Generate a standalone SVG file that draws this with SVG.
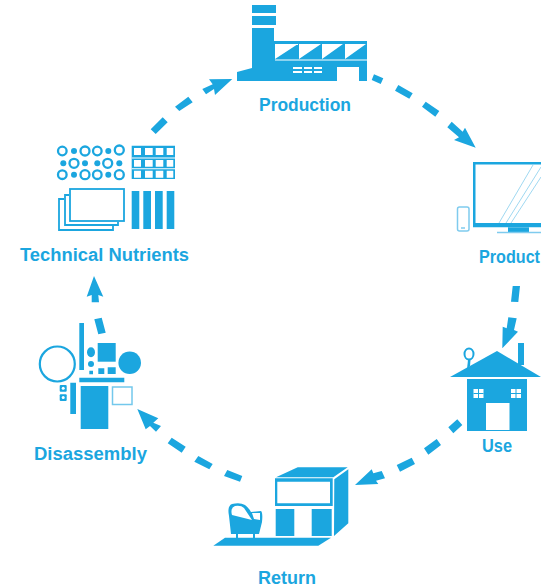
<svg xmlns="http://www.w3.org/2000/svg" width="541" height="588" viewBox="0 0 541 588">
<style>
.b{fill:#1ba6df}
.l{font-family:"Liberation Sans",Arial,sans-serif;font-weight:700;font-size:17.500px;fill:#1ba6df;text-anchor:middle}
.o{fill:none;stroke:#1ba6df;stroke-width:2.300}
.s{fill:none;stroke:#1ba6df;stroke-width:1.800}
.w{fill:#fff}
</style>
<g id="connectors" class="b">
<path d="M150.700 129.300L162.700 117.300L167.700 122.300L155.700 134zM175 106.700L188.300 96.700L192.700 102.300L179.300 111zM202.300 89L212.700 84.300L209 79.300L232.300 79L215 95L214 89L206 94.300z"/>
<path d="M374 74.300L383.300 78.300L380.700 84L371.700 80zM398.300 85L412.700 93.300L409.300 98.700L395 90.700zM425.700 101.700L439.300 111L435.300 116.700L422 106.700zM451.700 121.700L462.700 131.700L465 127.700L475.700 147.700L454 140L459 137.300L447.300 127.300z"/>
<path d="M512.700 286L520 286L518.300 302L511 301.700zM508.300 317.300L516.700 318.300L514 330L518 331.700L502.300 348.300L502.700 326.700L506.700 328.300z"/>
<path d="M457.300 419.300L462.300 425L453.300 433.300L448.300 427.300zM436.700 439L441 445L428.300 454.700L424 448.300zM411.700 457.700L415 464L400 471.700L396.700 465zM381.700 471L385 478.300L376 480.700L378.300 484L355 485L371.700 469.300L373.300 473.300z"/>
<path d="M227.300 470L242.300 476L240 481.700L224 476zM198.300 456L212.700 464L209.300 469.300L194.300 461.700zM171.700 437.700L185.700 446.700L181.700 452.700L167.700 443.300zM161 426L156 431.700L150 426L145.700 429.300L137.300 409L158.300 418.300L153.300 422.700z"/>
<path d="M94.300 319.300L101.700 317.700L105.700 332.700L98.300 334.300zM91.700 302.300L91.700 295L86.700 296.700L94 276L103.300 296.700L98.300 295L99 302.300z"/>
</g>
<g id="production">
<path class="b" d="M252 5h24v8h-24zM252 16h24v9h-24z"/>
<path class="b" d="M252 28h22v13h93v40h-8V67h-22v14H237V72l15-4z"/>
<path class="w" d="M275 44v15l23-15zM299 44v15l22-15zM322 44v15l21-15zM345 44v15l21-15z"/>
<path class="w" d="M275 44h23v1h-23zM275 59.500h92v1h-92zM293 67h9v2h-9zM304 67h8v2h-8zM314 67h8v2h-8zM293 71h9v2h-9zM304 71h8v2h-8zM314 71h8v2h-8z"/>
<text class="l" x="305" y="111" textLength="92" lengthAdjust="spacingAndGlyphs">Production</text>
</g>
<g id="product">
<path class="b" d="M473 162h68v2.500h-65.500V223H541v4.300h-68z"/>
<path d="M499 223l34-58M506 223l35-56M511 223l30-46" stroke="#9fd8f1" stroke-width="1" fill="none"/>
<path class="b" d="M508 227.300h21v4.700h-21z"/>
<path d="M497 232.500h44" stroke="#7fcbee" stroke-width="1.500"/>
<rect x="457.500" y="207" width="11.500" height="24" rx="2" fill="none" stroke="#7fcbee" stroke-width="1.500"/>
<path d="M461 228h4" stroke="#7fcbee" stroke-width="1.500"/>
<text x="479" y="263" class="l" style="text-anchor:start" textLength="61" lengthAdjust="spacingAndGlyphs">Product</text>
</g>
<g id="use">
<path class="b" d="M518 343h6v22h-6z"/>
<path class="b" d="M450 377l47-26 44 26z"/>
<ellipse cx="469" cy="354" rx="4.500" ry="5.500" fill="none" stroke="#1ba6df" stroke-width="2"/>
<path class="b" d="M468 360h2.500l-.5 6-3 3z"/>
<path class="b" d="M467 379h60v52h-60z"/>
<path class="w" d="M473.500 389h10v9h-10zM511 389h10v9h-10zM486 403h23.500v27H486z"/>
<path class="b" d="M478 389h1v9h-1zM473.500 393h10v1h-10zM515.500 389h1v9h-1zM511 393h10v1h-10z"/>
<text class="l" x="497" y="452" textLength="30" lengthAdjust="spacingAndGlyphs">Use</text>
</g>
<g id="return">
<path class="b" d="M276 477.300l21.700-10h50l-14.400 10zM334.300 479.300l14-10v54l-14.300 12.700z"/>
<path class="b" fill-rule="evenodd" d="M275 478.300h57.700V506H275zM277.300 481.700v21.600H330v-21.600z"/>
<path class="b" d="M275.700 509h18.600v27h-18.600zM311.700 509h20v27h-20z"/>
<path class="b" d="M225 537.700h106l-12.700 8h-105z"/>
<path class="b" d="M236 533h2v5h-2zM253 533h2v5h-2z"/>
<path class="b" d="M229 516Q227 506 232 504 240 502 245 505 249 508 251 512L261 511Q263 513 262 522L259 534H231z"/>
<path class="w" d="M232 515Q230 508 235 506 241 505 244 508L252 520zM252 513L260 513 260 520 254 519z"/>
<text class="l" x="287" y="584" textLength="58" lengthAdjust="spacingAndGlyphs">Return</text>
</g>
<g id="disassembly">
<path class="b" d="M79.300 323H84v47h-4.700z"/>
<circle cx="57.300" cy="364" r="17.500" fill="none" stroke="#1ba6df" stroke-width="2.200"/>
<circle class="b" cx="129.700" cy="362.700" r="11.300"/>
<rect class="b" x="97.700" y="343" width="18" height="18.700"/>
<ellipse class="b" cx="91" cy="352.300" rx="4" ry="5"/>
<circle class="b" cx="91" cy="364" r="3"/>
<path class="b" d="M89.300 370.700H93v3.600h-3.700zM98.300 368.300h6V374h-6zM107.700 367.300h8V374h-8zM79.300 377.700h45v4.600h-45zM70.300 382.700H76V414h-5.700zM80.700 386h27.600v43H80.700z"/>
<rect x="112.500" y="387" width="19.500" height="17.500" fill="none" stroke="#73c8ec" stroke-width="1.500"/>
<rect class="b" x="59.700" y="385" width="7" height="6.700" rx="1"/>
<rect class="b" x="59.700" y="394.300" width="7" height="6.700" rx="1"/>
<circle class="w" cx="63.200" cy="388.300" r="1.500"/>
<circle class="w" cx="63.200" cy="397.600" r="1.500"/>
<text class="l" x="90.500" y="460" textLength="113" lengthAdjust="spacingAndGlyphs">Disassembly</text>
</g>
<g id="technical-nutrients">
<circle class="o" cx="62.300" cy="151" r="4.300"/><circle class="b" cx="74" cy="151" r="3"/><circle class="o" cx="85" cy="151" r="4.500"/><circle class="o" cx="97.300" cy="151" r="4.300"/><circle class="b" cx="108.300" cy="151" r="3"/><circle class="o" cx="119.300" cy="150" r="4.500"/>
<circle class="b" cx="63.300" cy="163.300" r="3"/><circle class="o" cx="74" cy="163.300" r="4.500"/><circle class="b" cx="85" cy="163.300" r="3"/><circle class="b" cx="97.300" cy="163.300" r="3"/><circle class="o" cx="107.700" cy="163.300" r="4.500"/><circle class="b" cx="119.300" cy="163.300" r="3"/>
<circle class="o" cx="62.300" cy="174.700" r="4.300"/><circle class="b" cx="74" cy="174.700" r="3"/><circle class="o" cx="85" cy="174.700" r="4.500"/><circle class="o" cx="97.300" cy="174.700" r="4.300"/><circle class="b" cx="108.300" cy="174.700" r="3"/><circle class="o" cx="119.300" cy="174.700" r="4.500"/>
<path class="b" d="M131.700 145.700H175V179h-43.300z"/>
<path class="w" d="M134 148h7v7h-7zM145 148h7.700v7H145zM155.700 148h7.600v7h-7.600zM166.700 148h6.600v7h-6.600zM134 160h7v6.700h-7zM145 160h7.700v6.700H145zM155.700 160h7.600v6.700h-7.600zM166.700 160h6.600v6.700h-6.600zM134 170.700h7v7h-7zM145 170.700h7.700v7H145zM155.700 170.700h7.600v7h-7.600zM166.700 170.700h6.600v7h-6.600z"/>
<path class="w" d="M131.700 157.500H175v1h-43.300zM131.700 168.300H175v1h-43.300z"/>
<path class="s" d="M64 199h-5v31h54v-4"/>
<path class="s" d="M69 195h-4v30h53v-3"/>
<rect x="70" y="189" width="54" height="32" fill="#fff" stroke="#1ba6df" stroke-width="1.800"/>
<path class="b" d="M131.700 191h7.600v38h-7.600zM143.300 191h7.700v38h-7.700zM155 191h7.700v38H155zM166.700 191h7.600v38h-7.600z"/>
<text class="l" x="104.500" y="260.500" textLength="169" lengthAdjust="spacingAndGlyphs">Technical Nutrients</text>
</g>
</svg>
